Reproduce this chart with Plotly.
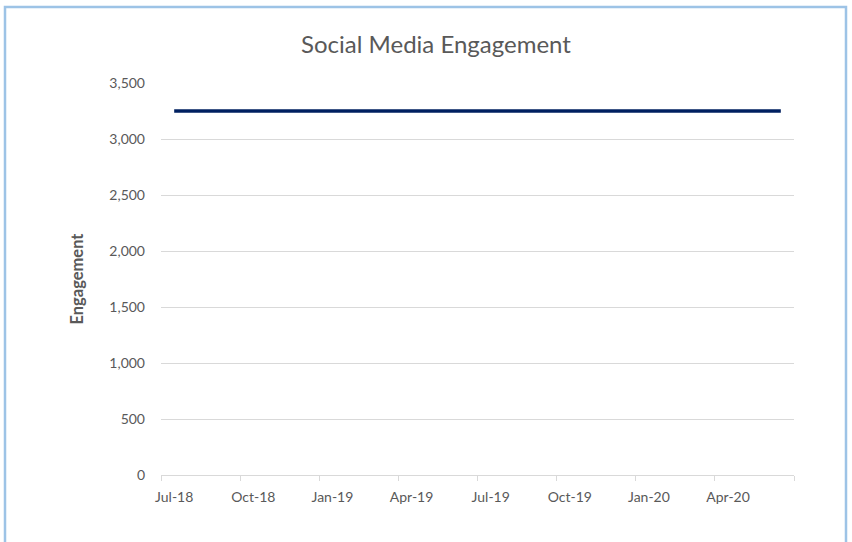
import plotly.graph_objects as go

# Monthly engagement, Jul-18 through Jun-20
months = ["Jul-18", "Aug-18", "Sep-18", "Oct-18", "Nov-18", "Dec-18",
          "Jan-19", "Feb-19", "Mar-19", "Apr-19", "May-19", "Jun-19",
          "Jul-19", "Aug-19", "Sep-19", "Oct-19", "Nov-19", "Dec-19",
          "Jan-20", "Feb-20", "Mar-20", "Apr-20", "May-20", "Jun-20"]
engagement = [3250, 3250, 3250, 3250, 3250, 3250,
              3250, 3250, 3250, 3250, 3250, 3250,
              3250, 3250, 3250, 3250, 3250, 3250,
              3250, 3250, 3250, 3250, 3250, 3250]
quarter_labels = ["Jul-18", "Oct-18", "Jan-19", "Apr-19",
                  "Jul-19", "Oct-19", "Jan-20", "Apr-20"]

W, H = 852, 542
L, R, T, B = 161, 58, 83, 67
pw, ph = W - L - R, H - T - B

idx = list(range(len(months)))
label_pos = [months.index(q) for q in quarter_labels]
# quarter boundaries for tick marks (months are centred on integers)
boundaries = [p - 0.5 for p in label_pos] + [len(months) - 0.5]
xr = [-0.5, len(months) - 0.5]

grey = "#595959"
font = "Lato"

fig = go.Figure()
fig.add_trace(go.Scatter(
    x=idx, y=engagement, mode="lines",
    line=dict(color="#002060", width=3.5),
    hoverinfo="skip", showlegend=False,
))
# invisible trace on the label axis so it gets drawn
fig.add_trace(go.Scatter(
    x=[xr[0]], y=[0], xaxis="x2", mode="markers",
    marker=dict(opacity=0), hoverinfo="skip", showlegend=False,
))

fig.update_layout(
    width=W, height=H,
    margin=dict(l=L, r=R, t=T, b=B),
    paper_bgcolor="white", plot_bgcolor="white",
    title=dict(
        text="Social Media Engagement",
        font=dict(family=font, size=24, color=grey),
        x=436 / W, xref="container", xanchor="center",
        y=1 - 45 / H, yref="container", yanchor="middle",
    ),
    xaxis=dict(
        range=xr, tickmode="array", tickvals=boundaries,
        showticklabels=False, ticks="outside", ticklen=5,
        tickcolor="#d9d9d9", tickwidth=1,
        showgrid=False, showline=True, linecolor="#d9d9d9", linewidth=1,
        zeroline=False, fixedrange=True,
    ),
    xaxis2=dict(
        range=xr, overlaying="x", side="bottom", anchor="y",
        tickmode="array", tickvals=label_pos, ticktext=quarter_labels,
        ticks="", showgrid=False, showline=False, zeroline=False,
        tickfont=dict(family=font, size=14, color=grey),
        ticklabelstandoff=12,
    ),
    yaxis=dict(
        range=[0, 3500], dtick=500, tickformat=",",
        showgrid=True, gridcolor="#d9d9d9", gridwidth=1,
        zeroline=False, showline=False, ticks="",
        ticklabelstandoff=15,
        tickfont=dict(family=font, size=14, color=grey),
        title=dict(text="<b>Engagement</b>",
                   font=dict(family=font, size=16.5, color=grey),
                   standoff=21),
    ),
    shapes=[dict(
        type="rect", xref="paper", yref="paper",
        x0=(5 - L) / pw, x1=(846 - L) / pw,
        y0=(H - 560 - B) / ph, y1=(H - 7 - B) / ph,
        line=dict(color="#9dc3e6", width=2.5), fillcolor="rgba(0,0,0,0)",
        layer="below",
    )],
)

fig.write_html("out.html")
